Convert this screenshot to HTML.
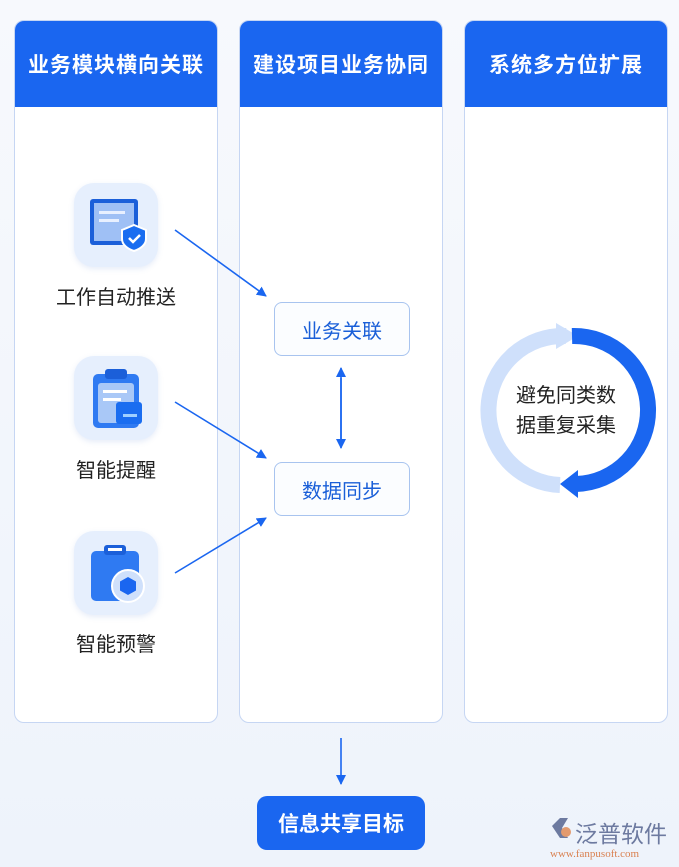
<!DOCTYPE html>
<html><head><meta charset="utf-8"><style>
body{margin:0;width:679px;height:867px;background:linear-gradient(#f7f9fd,#eef3fb);font-family:"Liberation Sans","Noto Sans CJK SC",sans-serif;position:relative;overflow:hidden}
.col{position:absolute;top:20px;width:204px;height:703px;background:#fff;border:1.5px solid #c6d6f3;border-radius:10px;box-sizing:border-box;overflow:hidden}
.hd{height:86px;background:#1a66f0;color:#fff;font-size:21px;font-weight:bold;display:flex;align-items:center;justify-content:center;letter-spacing:1px}
.ic{position:absolute;left:74px;width:84px;height:84px;border-radius:20px;background:#e6effd;box-shadow:0 2px 6px rgba(90,130,210,.15)}
.lb{position:absolute;width:160px;left:36px;text-align:center;font-size:20px;color:#222}
.box{position:absolute;left:274px;width:134px;height:52px;border:1.5px solid #a8c4ef;border-radius:8px;background:#fbfdff;color:#1a5fd8;font-size:20px;display:flex;align-items:center;justify-content:center}
</style></head><body>
<div class="col" style="left:14px"><div class="hd">业务模块横向关联</div></div>
<div class="col" style="left:239px"><div class="hd">建设项目业务协同</div></div>
<div class="col" style="left:464px"><div class="hd">系统多方位扩展</div></div>

<div class="ic" style="top:183px"><svg width="84" height="84"><rect x="16" y="16" width="48" height="46" rx="3" fill="#1b5fd9"/><rect x="20" y="20" width="40" height="38" fill="#9fc0f5"/><rect x="25" y="28" width="26" height="3" fill="#e8f0ff"/><rect x="25" y="36" width="20" height="3" fill="#e8f0ff"/><path d="M60 42l12 5v9c0 6-6 10-12 12c-6-2-12-6-12-12v-9z" fill="#1a6df0" stroke="#fff" stroke-width="2"/><path d="M55 55l4 4l7-7" stroke="#fff" stroke-width="2.5" fill="none"/></svg></div>
<div class="lb" style="top:281px">工作自动推送</div>

<div class="ic" style="top:356px"><svg width="84" height="84"><rect x="19" y="18" width="46" height="54" rx="5" fill="#2f7af2"/><rect x="31" y="13" width="22" height="10" rx="3" fill="#1b5fd9"/><rect x="24" y="27" width="36" height="40" rx="3" fill="#a9c8f7"/><rect x="29" y="34" width="24" height="3" fill="#fff"/><rect x="29" y="42" width="18" height="3" fill="#fff"/><rect x="42" y="46" width="26" height="22" rx="3" fill="#1a6df0"/><rect x="49" y="58" width="14" height="3" fill="#9fd0ff"/></svg></div>
<div class="lb" style="top:454px">智能提醒</div>

<div class="ic" style="top:531px"><svg width="84" height="84"><rect x="17" y="20" width="48" height="50" rx="5" fill="#2f7af2"/><rect x="30" y="14" width="22" height="10" rx="3" fill="#1b5fd9"/><rect x="34" y="17" width="14" height="3" fill="#fff"/><circle cx="54" cy="55" r="16" fill="#cfe0fb" stroke="#fff" stroke-width="2"/><path d="M54 46l8 4.5v9l-8 4.5l-8-4.5v-9z" fill="#1a66f0"/></svg></div>
<div class="lb" style="top:628px">智能预警</div>

<div class="box" style="top:302px">业务关联</div>
<div class="box" style="top:462px">数据同步</div>

<div style="position:absolute;left:257px;top:796px;width:168px;height:54px;background:#1a66f0;border-radius:10px;color:#fff;font-size:21px;font-weight:bold;display:flex;align-items:center;justify-content:center">信息共享目标</div>

<svg style="position:absolute;left:0;top:0" width="679" height="867">
<defs><marker id="a" markerWidth="10" markerHeight="10" refX="9" refY="5" orient="auto" markerUnits="userSpaceOnUse"><path d="M0 0L10 5L0 10z" fill="#1a66f0"/></marker></defs>
<g stroke="#1a66f0" stroke-width="1.6" fill="none">
<line x1="175" y1="230" x2="266" y2="296" marker-end="url(#a)"/>
<line x1="175" y1="402" x2="266" y2="458" marker-end="url(#a)"/>
<line x1="175" y1="573" x2="266" y2="518" marker-end="url(#a)"/>
<line x1="341" y1="378" x2="341" y2="448" marker-end="url(#a)"/>
<line x1="341" y1="440" x2="341" y2="368" marker-end="url(#a)"/>
<line x1="341" y1="738" x2="341" y2="784" marker-end="url(#a)"/>
</g>
<path d="M560 485A74 74 0 0 1 566 336" stroke="#cfe0fb" stroke-width="16" fill="none"/>
<path d="M556 323l22 13l-22 13z" fill="#cfe0fb"/>
<path d="M572 336A74 74 0 0 1 576 484" stroke="#1a66f0" stroke-width="16" fill="none"/>
<path d="M578 470l-18 14l18 14z" fill="#1a66f0"/>
<text x="566" y="402" font-size="20" fill="#222" text-anchor="middle" font-family="Liberation Sans,Noto Sans CJK SC,sans-serif">避免同类数</text>
<text x="566" y="432" font-size="20" fill="#222" text-anchor="middle" font-family="Liberation Sans,Noto Sans CJK SC,sans-serif">据重复采集</text>
<path d="M552 826l8-8h8l-6 10l6 10h-8z" fill="#6d7aa0"/><circle cx="566" cy="832" r="5" fill="#e39a6e"/>
<text x="575" y="842" font-size="23" fill="#6d7aa0" font-family="Liberation Sans,Noto Sans CJK SC,sans-serif">泛普软件</text>
<text x="550" y="857" font-size="11" fill="#d98050" font-family="Liberation Serif,serif">www.fanpusoft.com</text>
</svg>
</body></html>
